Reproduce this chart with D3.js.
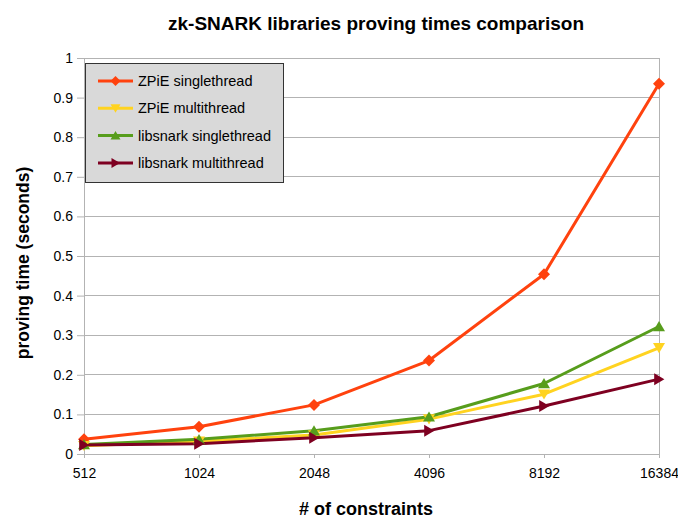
<!DOCTYPE html>
<html><head><meta charset="utf-8">
<script src="https://cdn.jsdelivr.net/npm/d3@7"></script>
<style>body{margin:0;background:#fff}svg{display:block;font-family:"Liberation Sans",Arial,sans-serif}</style>
</head><body>
<svg id="c" width="678" height="519"></svg>
<script>
const categories = ["512","1024","2048","4096","8192","16384"];
const zpieSingle = [0.037, 0.069, 0.124, 0.236, 0.454, 0.935];
const zpieMulti = [0.021, 0.032, 0.048, 0.088, 0.151, 0.268];
const libsnarkSingle = [0.024, 0.037, 0.059, 0.094, 0.178, 0.322];
const libsnarkMulti = [0.023, 0.026, 0.041, 0.059, 0.121, 0.189];
const yTicks = [0,0.1,0.2,0.3,0.4,0.5,0.6,0.7,0.8,0.9,1];
const seriesNames = ["ZPiE singlethread","ZPiE multithread","libsnark singlethread","libsnark multithread"];

const series = [
  {name: seriesNames[0], values: zpieSingle, color: "#ff420e", marker: "diamond"},
  {name: seriesNames[1], values: zpieMulti, color: "#ffd320", marker: "down"},
  {name: seriesNames[2], values: libsnarkSingle, color: "#579d1c", marker: "up"},
  {name: seriesNames[3], values: libsnarkMulti, color: "#7e0021", marker: "right"}
];

const svg = d3.select("#c");
const L = 84, R = 659, T = 58, B = 454;
const x = d3.scalePoint().domain(categories).range([L, R]);
const y = d3.scaleLinear().domain([0, 1]).range([B, T]);

// gridlines
svg.append("g").selectAll("line").data(yTicks).join("line")
  .attr("x1", L).attr("x2", R).attr("y1", d => y(d)).attr("y2", d => y(d))
  .attr("stroke", "#b3b3b3").attr("stroke-width", 1).attr("shape-rendering","crispEdges");
// right border
svg.append("line").attr("x1", R).attr("x2", R).attr("y1", T).attr("y2", B)
  .attr("stroke", "#b3b3b3").attr("shape-rendering","crispEdges");

// y axis
const ya = svg.append("g").attr("transform", `translate(${L},0)`)
  .call(d3.axisLeft(y).tickValues(yTicks).tickFormat(d => d3.format("~g")(d)).tickSize(7).tickSizeOuter(0).tickPadding(4));
ya.select(".domain").attr("stroke", "#b3b3b3");
ya.selectAll(".tick line").attr("stroke", "#b3b3b3");
ya.selectAll("text").attr("font-size", 14).attr("fill", "#000").attr("font-family", "Liberation Sans, Arial, sans-serif");

// x axis
const xa = svg.append("g").attr("transform", `translate(0,${B})`)
  .call(d3.axisBottom(x).tickSize(4).tickSizeOuter(0).tickPadding(10));
xa.select(".domain").attr("stroke", "#b3b3b3");
xa.selectAll(".tick line").attr("stroke", "#b3b3b3");
xa.selectAll("text").attr("font-size", 14).attr("fill", "#000").attr("font-family", "Liberation Sans, Arial, sans-serif");

function markerPath(type, s) {
  switch (type) {
    case "diamond": return `M0,${-s}L${s},0L0,${s}L${-s},0Z`;
    case "down": return `M${-s},${-s*0.8}L${s},${-s*0.8}L0,${s*0.9}Z`;
    case "up": return `M${-s},${s*0.8}L${s},${s*0.8}L0,${-s*0.9}Z`;
    case "right": return `M${-s*0.8},${-s}L${s*0.9},0L${-s*0.8},${s}Z`;
  }
}

const line = d3.line().x((d, i) => x(categories[i])).y(d => y(d));
series.forEach(s => {
  svg.append("path").attr("d", line(s.values)).attr("fill", "none")
    .attr("stroke", s.color).attr("stroke-width", 3).attr("stroke-linejoin","round");
});
series.forEach(s => {
  svg.append("g").selectAll("path").data(s.values).join("path")
    .attr("transform", (d, i) => `translate(${x(categories[i])},${y(d)})`)
    .attr("d", markerPath(s.marker, 6)).attr("fill", s.color);
});

// legend
const lg = svg.append("g");
lg.append("rect").attr("x", 85.5).attr("y", 63.5).attr("width", 198).attr("height", 119)
  .attr("fill", "#d9d9d9").attr("stroke", "#333").attr("stroke-width", 1);
series.forEach((s, i) => {
  const yy = 81 + i * 27.3;
  lg.append("line").attr("x1", 98).attr("x2", 133).attr("y1", yy).attr("y2", yy)
    .attr("stroke", s.color).attr("stroke-width", 3);
  lg.append("path").attr("transform", `translate(115.5,${yy})`).attr("d", markerPath(s.marker, 5)).attr("fill", s.color);
  lg.append("text").attr("x", 138).attr("y", yy).attr("dy", "0.35em")
    .attr("font-size", 14.5).attr("fill", "#000").text(s.name);
});

// titles
svg.append("text").attr("x", 376).attr("y", 30).attr("text-anchor", "middle")
  .attr("font-size", 19).attr("font-weight", "bold").text("zk-SNARK libraries proving times comparison");
svg.append("text").attr("x", 366).attr("y", 515).attr("text-anchor", "middle")
  .attr("font-size", 18).attr("font-weight", "bold").text("# of constraints");
svg.append("text").attr("transform", "translate(29,263) rotate(-90)").attr("text-anchor", "middle")
  .attr("font-size", 17.5).attr("font-weight", "bold").text("proving time (seconds)");
</script>
</body></html>
